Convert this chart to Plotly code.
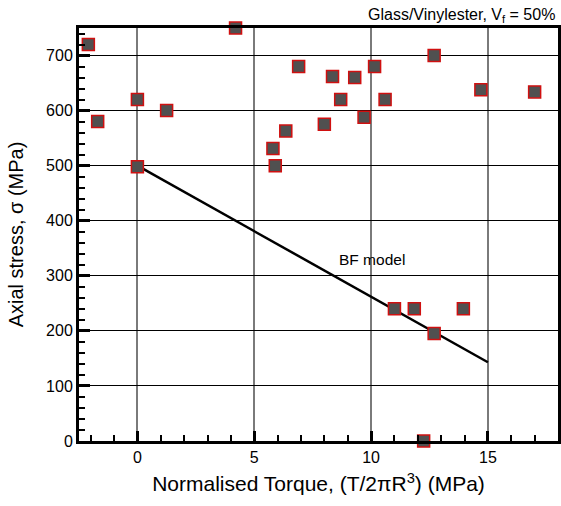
import plotly.graph_objects as go

torque = [-2.1, -1.7, 0.0, 1.25, 0.0, 4.2, 5.8, 5.9, 6.35, 6.9, 8.0, 8.35, 8.7, 9.3, 9.7,
          10.15, 10.6, 12.7, 14.7, 17.0, 11.0, 11.85, 13.95, 12.7, 12.25]
stress = [720, 580, 620, 600, 498, 750, 531, 500, 563, 680, 575, 662, 620, 660, 588,
          680, 620, 700, 638, 634, 240, 240, 240, 195, 0]

bf_torque = [0.0, 15.0]
bf_stress = [500, 143]

FONT = "Arial, Liberation Sans, sans-serif"

fig = go.Figure()
fig.add_trace(go.Scatter(x=bf_torque, y=bf_stress, mode="lines",
                         line=dict(color="black", width=2.5), showlegend=False,
                         cliponaxis=False))
fig.add_trace(go.Scatter(x=torque, y=stress, mode="markers",
                         marker=dict(symbol="square", size=12, color="#505050",
                                     line=dict(color="#d01010", width=1.5)),
                         showlegend=False, cliponaxis=False))

fig.add_annotation(x=10.05, y=329, text="BF model", showarrow=False,
                   font=dict(family=FONT, size=15.5, color="black"))
fig.add_annotation(xref="paper", yref="paper", x=1.0, y=1.0, yshift=13, xshift=-1,
                   xanchor="right", yanchor="middle",
                   text="Glass/Vinylester, V<sub>f</sub> = 50%", showarrow=False,
                   font=dict(family=FONT, size=16, color="black"))

fig.update_layout(
    width=561, height=506, autosize=False,
    margin=dict(l=79, r=3, t=28, b=65, autoexpand=False),
    plot_bgcolor="white", paper_bgcolor="white",
    font=dict(family=FONT, size=16, color="black"),
    xaxis=dict(range=[-2.5, 18], tick0=0, dtick=5, showgrid=True, automargin=False,
               gridcolor="#7a7a7a", gridwidth=2, zeroline=False,
               showline=True, linecolor="black", linewidth=3, mirror=True,
               ticks="inside", ticklen=10, tickwidth=3, tickcolor="black",
               minor=dict(dtick=1, tick0=0, ticks="inside", ticklen=6,
                          tickwidth=1.5, tickcolor="black", showgrid=False),
               title=dict(text="Normalised Torque, (T/2πR<sup>3</sup>) (MPa)",
                          font=dict(size=21), standoff=12),
               tickfont=dict(size=16)),
    yaxis=dict(range=[0, 750], tick0=0, dtick=100, showgrid=True, automargin=False,
               gridcolor="black", gridwidth=1, zeroline=False,
               showline=True, linecolor="black", linewidth=3, mirror=True,
               ticks="inside", ticklen=11, tickwidth=3, tickcolor="black",
               minor=dict(dtick=20, tick0=0, ticks="inside", ticklen=6,
                          tickwidth=1.5, tickcolor="black", showgrid=False),
               title=dict(text="Axial stress, σ (MPa)", font=dict(size=20),
                          standoff=18),
               tickfont=dict(size=16)),
)

fig.write_html("out.html",
               config={"displayModeBar": False, "responsive": False},
               post_script="document.body.style.margin='0px';document.body.style.overflow='hidden';")
